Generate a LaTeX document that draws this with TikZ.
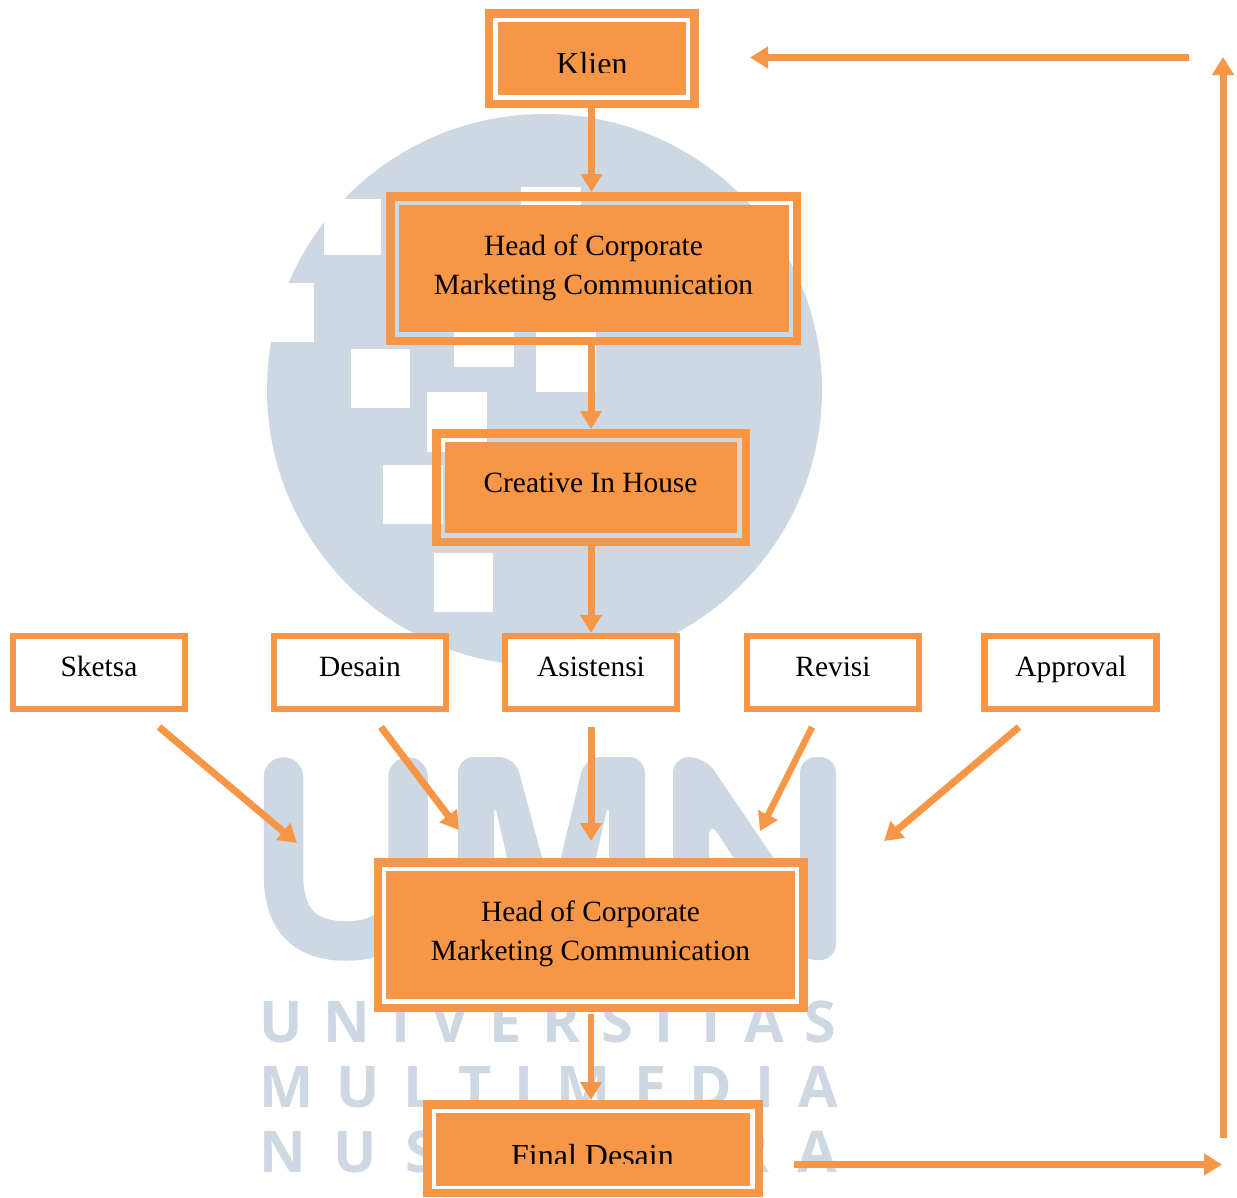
\documentclass[tikz,border=0pt]{standalone}
\usepackage{fontspec}
\setmainfont{Liberation Serif}
\newfontfamily\wmfont{Open Sans}
\usetikzlibrary{arrows.meta}
\definecolor{boxorange}{HTML}{F79646}
\definecolor{wmblue}{HTML}{CDD8E3}
\tikzset{
  ring/.style={draw=boxorange,line width=8.5pt,inner sep=0pt},
  solidbox/.style={fill=boxorange,inner sep=0pt,outer sep=0pt},
  smallbox/.style={draw=boxorange,line width=6.3pt,fill=white,inner sep=0pt,minimum width=172pt,minimum height=73pt},
  label/.style={font=\fontsize{29.4}{39}\selectfont,text=black,inner sep=0pt,anchor=base,align=center},
  biglabel/.style={label,font=\fontsize{32}{39}\selectfont},
  conn/.style={draw=boxorange,line width=7pt,-{Triangle[width=21pt,length=18pt]}},
  wmtext/.style={font=\wmfont\bfseries\fontsize{57.5}{57.5}\selectfont,text=wmblue,inner sep=0pt,anchor=base west}
}
\begin{document}
\begin{tikzpicture}[x=1pt,y=-1pt]
\useasboundingbox (0,0) rectangle (1237,1197);
\fill[white] (0,0) rectangle (1237,1197);
% watermark
\fill[wmblue] (544.5,390) ellipse [x radius=277.5pt,y radius=276pt];
\fill[white] (324,199) rectangle (381,255);
\fill[white] (521,187) rectangle (581,247);
\fill[white] (255,283) rectangle (314,342);
\fill[white] (351,349) rectangle (410,408);
\fill[white] (454,307) rectangle (514,367);
\fill[white] (536,332) rectangle (596,392);
\fill[white] (427,392) rectangle (487,452);
\fill[white] (383,465) rectangle (443,524);
\fill[white] (434,553) rectangle (493,612);
\draw[wmblue,line width=39.5pt,line cap=round] (283.5,777) -- (283.5,875) .. controls (283.5,925) and (310,941) .. (346,941) .. controls (382,941) and (408,925) .. (408,875) -- (408,777);
\fill[wmblue,rounded corners=16pt] (458,960) -- (458,757) -- (515,757) -- (552,895) -- (585,757) -- (645,757) -- (645,960) -- (609,960) -- (609,800) -- (573,960) -- (530,960) -- (494,800) -- (494,960) -- cycle;
\fill[wmblue,rounded corners=16pt] (673,960) -- (673,757) -- (705,757) -- (800,897) -- (800,757) -- (836,757) -- (836,960) -- (800,960) -- (709,820) -- (709,960) -- cycle;
\node[wmtext] (wma) at (259,1042) {\addfontfeature{LetterSpace=36.4}UNIVERSITAS};
\node[wmtext] (wmb) at (259,1107) {\addfontfeature{LetterSpace=40.5}MULTIMEDIA};
\node[wmtext] (wmc) at (259,1172) {\addfontfeature{LetterSpace=48.4}NUSANTARA};
% double boxes
\node[ring,fill=white,minimum width=205.5pt,minimum height=90.5pt] (klien) at (591.5,58.5) {};
\node[solidbox,minimum width=188pt,minimum height=73pt] (klienin) at (592,58.5) {};
\begin{scope}\clip (480,30) rectangle (700,72);
\node[biglabel] (klientxt) at (592,74) {Klien};
\end{scope}
\node[ring,minimum width=406.5pt,minimum height=144.5pt] (hoca) at (593.5,268.5) {};
\node[solidbox,minimum width=389.5pt,minimum height=127pt] (hocain) at (593.75,268.5) {};
\node[label] (hocatxt) at (593.5,294) {Head of Corporate\\Marketing Communication};
\node[ring,minimum width=309.5pt,minimum height=108.5pt] (creative) at (591,487.5) {};
\node[solidbox,minimum width=292pt,minimum height=91pt] (creativein) at (591,487.5) {};
\node[label] (creativetxt) at (590.5,492) {Creative In House};
\node[ring,fill=white,minimum width=425.5pt,minimum height=145.5pt] (hocb) at (590.5,935) {};
\node[solidbox,minimum width=408.5pt,minimum height=128pt] (hocbin) at (590.25,935) {};
\node[label] (hocbtxt) at (590.5,960) {Head of Corporate\\Marketing Communication};
\node[ring,fill=white,minimum width=331.5pt,minimum height=88.5pt] (final) at (593,1148.5) {};
\node[solidbox,minimum width=314pt,minimum height=73pt] (finalin) at (593,1149.5) {};
\begin{scope}\clip (430,1130) rectangle (756,1163);
\node[biglabel] (finaltxt) at (592.5,1166.5) {Final Desain};
\end{scope}
% small boxes
\node[smallbox] (sketsa) at (99,672.5) {};
\node[smallbox] (desain) at (360,672.5) {};
\node[smallbox] (asistensi) at (591,672.5) {};
\node[smallbox] (revisi) at (833,672.5) {};
\node[smallbox] (approval) at (1070.5,672.5) {};
\node[label] (sketsatxt) at (99,676) {Sketsa};
\node[label] (desaintxt) at (360,676) {Desain};
\node[label] (asistensitxt) at (591,676) {Asistensi};
\node[label] (revisitxt) at (833,676) {Revisi};
\node[label] (approvaltxt) at (1071,676) {Approval};
% free ends
\coordinate (s1) at (159,727); \coordinate (s2) at (297,843);
\coordinate (d1) at (381,727); \coordinate (d2) at (459,830);
\coordinate (a1) at (591,727); \coordinate (a2) at (591,841);
\coordinate (r1) at (812,727); \coordinate (r2) at (760,831);
\coordinate (p1) at (1019,727); \coordinate (p2) at (884,841);
\coordinate (t1) at (1189,57.5); \coordinate (t2) at (750,57.5);
\coordinate (u1) at (1223,1138); \coordinate (u2) at (1223,57);
\coordinate (b1) at (794,1164.5); \coordinate (b2) at (1222,1164.5);
\coordinate (f1) at (591,1014);
% connectors
\draw[conn] (klien.south) -- (klien.south |- hoca.north);
\draw[conn] (creative.north |- hoca.south) -- (creative.north);
\draw[conn] (creative.south) -- (asistensi.north);
\draw[conn] (s1) -- (s2);
\draw[conn] (d1) -- (d2);
\draw[conn] (a1) -- (a2);
\draw[conn,line width=6.5pt] (r1) -- (r2);
\draw[conn] (p1) -- (p2);
\draw[conn,line width=6pt] (f1) -- (f1 |- final.north);
\draw[conn] (t1) -- (t2);
\draw[conn] (u1) -- (u2);
\draw[conn] (b1) -- (b2);
\end{tikzpicture}
\end{document}
